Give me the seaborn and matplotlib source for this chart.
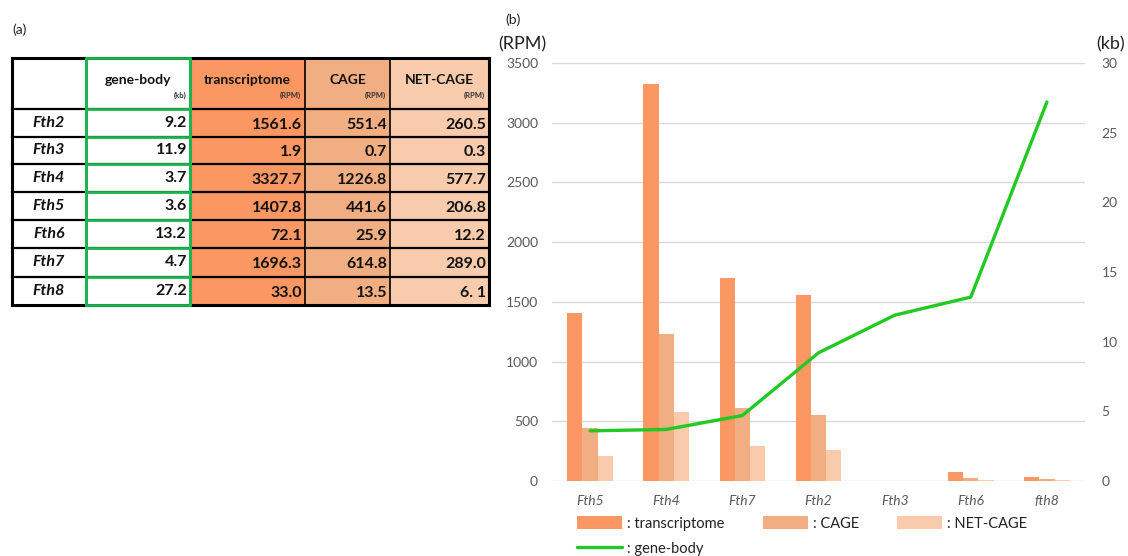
import matplotlib
matplotlib.use("Agg")
import matplotlib.pyplot as plt
from matplotlib.patches import Rectangle, Patch
from matplotlib.lines import Line2D
import numpy as np
import pandas as pd
import seaborn as sns

sns.set_theme(style="white")
plt.rcParams["font.family"] = ["Lato", "DejaVu Sans"]

# ---- table data (panel a) ----
table_genes = ["Fth2", "Fth3", "Fth4", "Fth5", "Fth6", "Fth7", "Fth8"]
table_body = ["9.2", "11.9", "3.7", "3.6", "13.2", "4.7", "27.2"]
table_tx = ["1561.6", "1.9", "3327.7", "1407.8", "72.1", "1696.3", "33.0"]
table_cage = ["551.4", "0.7", "1226.8", "441.6", "25.9", "614.8", "13.5"]
table_net = ["260.5", "0.3", "577.7", "206.8", "12.2", "289.0", "6. 1"]

# ---- chart data (panel b) ----
genes = ["Fth5", "Fth4", "Fth7", "Fth2", "Fth3", "Fth6", "fth8"]
transcriptome = [1407.8, 3327.7, 1696.3, 1561.6, 1.9, 72.1, 33.0]
cage = [441.6, 1226.8, 614.8, 551.4, 0.7, 25.9, 13.5]
net_cage = [206.8, 577.7, 289.0, 260.5, 0.3, 12.2, 6.1]
gene_body = [3.6, 3.7, 4.7, 9.2, 11.9, 13.2, 27.2]

C_TX = "#FA9763"
C_CAGE = "#F1AE82"
C_NET = "#F8CBAD"
C_BODY = "#22C922"
C_GREEN_BORDER = "#1DB34F"
C_TEXT = "#595959"

W, H = 1128, 556
fig = plt.figure(figsize=(W / 100, H / 100), dpi=100)

# ---------------- panel (a): table drawn in pixel space ----------------
tab = fig.add_axes([0, 0, 1, 1])
tab.set_xlim(0, W)
tab.set_ylim(H, 0)
tab.axis("off")

col_edges = [12, 86, 190, 305, 390, 489]
row_edges = [58, 109, 137, 164, 192, 220, 248, 277, 305]
col_fill = ["white", "white", C_TX, C_CAGE, C_NET]

tab.text(12, 30, "(a)", fontsize=10, color="#222222", va="center", ha="left")

for ci in range(5):
    x0, x1 = col_edges[ci], col_edges[ci + 1]
    tab.add_patch(Rectangle((x0, row_edges[0]), x1 - x0, row_edges[-1] - row_edges[0],
                            facecolor=col_fill[ci], edgecolor="none", zorder=1))

# horizontal row lines
for ri, y in enumerate(row_edges):
    lw = 2.2 if ri in (0, len(row_edges) - 1) else 1.6
    tab.plot([col_edges[0], col_edges[-1]], [y, y], color="black", lw=lw, zorder=2,
             solid_capstyle="projecting")
# vertical lines
for ci, x in enumerate(col_edges):
    lw = 2.2 if ci in (0, len(col_edges) - 1) else 1.2
    tab.plot([x, x], [row_edges[0], row_edges[-1]], color="black", lw=lw, zorder=2,
             solid_capstyle="projecting")
# green frame around the gene-body column
for y in row_edges:
    tab.plot([col_edges[1], col_edges[2]], [y, y], color=C_GREEN_BORDER, lw=2.0, zorder=3)
for x in (col_edges[1], col_edges[2]):
    tab.plot([x, x], [row_edges[0], row_edges[-1]], color=C_GREEN_BORDER, lw=2.2, zorder=3)

headers = ["gene-body", "transcriptome", "CAGE", "NET-CAGE"]
units = ["(kb)", "(RPM)", "(RPM)", "(RPM)"]
for i, (hd, un) in enumerate(zip(headers, units)):
    x0, x1 = col_edges[i + 1], col_edges[i + 2]
    tab.text((x0 + x1) / 2, 80, hd, fontsize=10, fontweight="bold", color="#111111",
             ha="center", va="center", zorder=4)
    tab.text(x1 - 4, 95, un, fontsize=5.5, fontweight="bold", color="#333333",
             ha="right", va="center", zorder=4)

columns = [table_body, table_tx, table_cage, table_net]
for r, g in enumerate(table_genes):
    yc = (row_edges[r + 1] + row_edges[r + 2]) / 2
    tab.text((col_edges[0] + col_edges[1]) / 2, yc, g, fontsize=11.5, fontweight="bold",
             fontstyle="italic", color="#111111", ha="center", va="center", zorder=4)
    for ci, col in enumerate(columns):
        x1 = col_edges[ci + 2]
        dy = 0 if ci == 0 else 2
        tab.text(x1 - 3, yc + dy, col[r], fontsize=11.5, fontweight="bold",
                 color="#111111", ha="right", va="center", zorder=4)

# ---------------- panel (b): bar + line chart ----------------
ax_l, ax_r, ax_t, ax_b = 552, 1085, 63, 481
ax = fig.add_axes([ax_l / W, (H - ax_b) / H, (ax_r - ax_l) / W, (ax_b - ax_t) / H])

df = pd.DataFrame({
    "gene": genes * 3,
    "value": transcriptome + cage + net_cage,
    "series": ["transcriptome"] * 7 + ["CAGE"] * 7 + ["NET-CAGE"] * 7,
})
sns.barplot(data=df, x="gene", y="value", hue="series", order=genes,
            hue_order=["transcriptome", "CAGE", "NET-CAGE"],
            palette=[C_TX, C_CAGE, C_NET], width=0.6, saturation=1,
            errorbar=None, legend=False, ax=ax, zorder=3)
for p in ax.patches:
    p.set_edgecolor("none")

ax.set_ylim(0, 3500)
ax.set_yticks(np.arange(0, 3501, 500))
ax.set_xlim(-0.5, len(genes) - 0.5)
ax.grid(axis="y", color="#D9D9D9", lw=1, zorder=0)
ax.set_axisbelow(True)
for s in ax.spines.values():
    s.set_visible(False)
ax.set_xlabel("")
ax.set_ylabel("")
ax.tick_params(axis="y", length=0, labelsize=10, labelcolor=C_TEXT, pad=10)
ax.tick_params(axis="x", length=0, labelsize=10, labelcolor=C_TEXT, pad=10)
for lab in ax.get_xticklabels():
    lab.set_fontstyle("italic")

ax2 = ax.twinx()
sns.lineplot(x=np.arange(len(genes)), y=gene_body, ax=ax2, color=C_BODY,
             lw=2.4, zorder=4)
ax2.set_ylim(0, 30)
ax2.set_yticks(np.arange(0, 31, 5))
for s in ax2.spines.values():
    s.set_visible(False)
ax2.tick_params(axis="y", length=0, labelsize=10, labelcolor=C_TEXT, pad=12)
ax2.grid(False)

fig.text(505 / W, 1 - 20 / H, "(b)", fontsize=10, color="#222222", ha="left", va="center")
fig.text(498 / W, 1 - 44 / H, "(RPM)", fontsize=13, color="#222222", ha="left", va="center")
fig.text(1125 / W, 1 - 44 / H, "(kb)", fontsize=13, color="#222222", ha="right", va="center")

handles = [
    Patch(facecolor=C_TX, edgecolor="none"),
    Line2D([], [], color=C_BODY, lw=2.4),
    Patch(facecolor=C_CAGE, edgecolor="none"),
    Patch(facecolor=C_NET, edgecolor="none"),
]
labels = [": transcriptome", ": gene-body", ": CAGE", ": NET-CAGE"]
fig.legend(handles, labels, ncol=3, loc="upper left",
           bbox_to_anchor=(577 / W, 1 - 516 / H), frameon=False,
           fontsize=10.5, handlelength=3.1, handleheight=1.0, handletextpad=0.35,
           columnspacing=2.6, labelspacing=0.75, borderpad=0, borderaxespad=0,
           labelcolor="#222222")

fig.savefig("out.png", dpi=100)
